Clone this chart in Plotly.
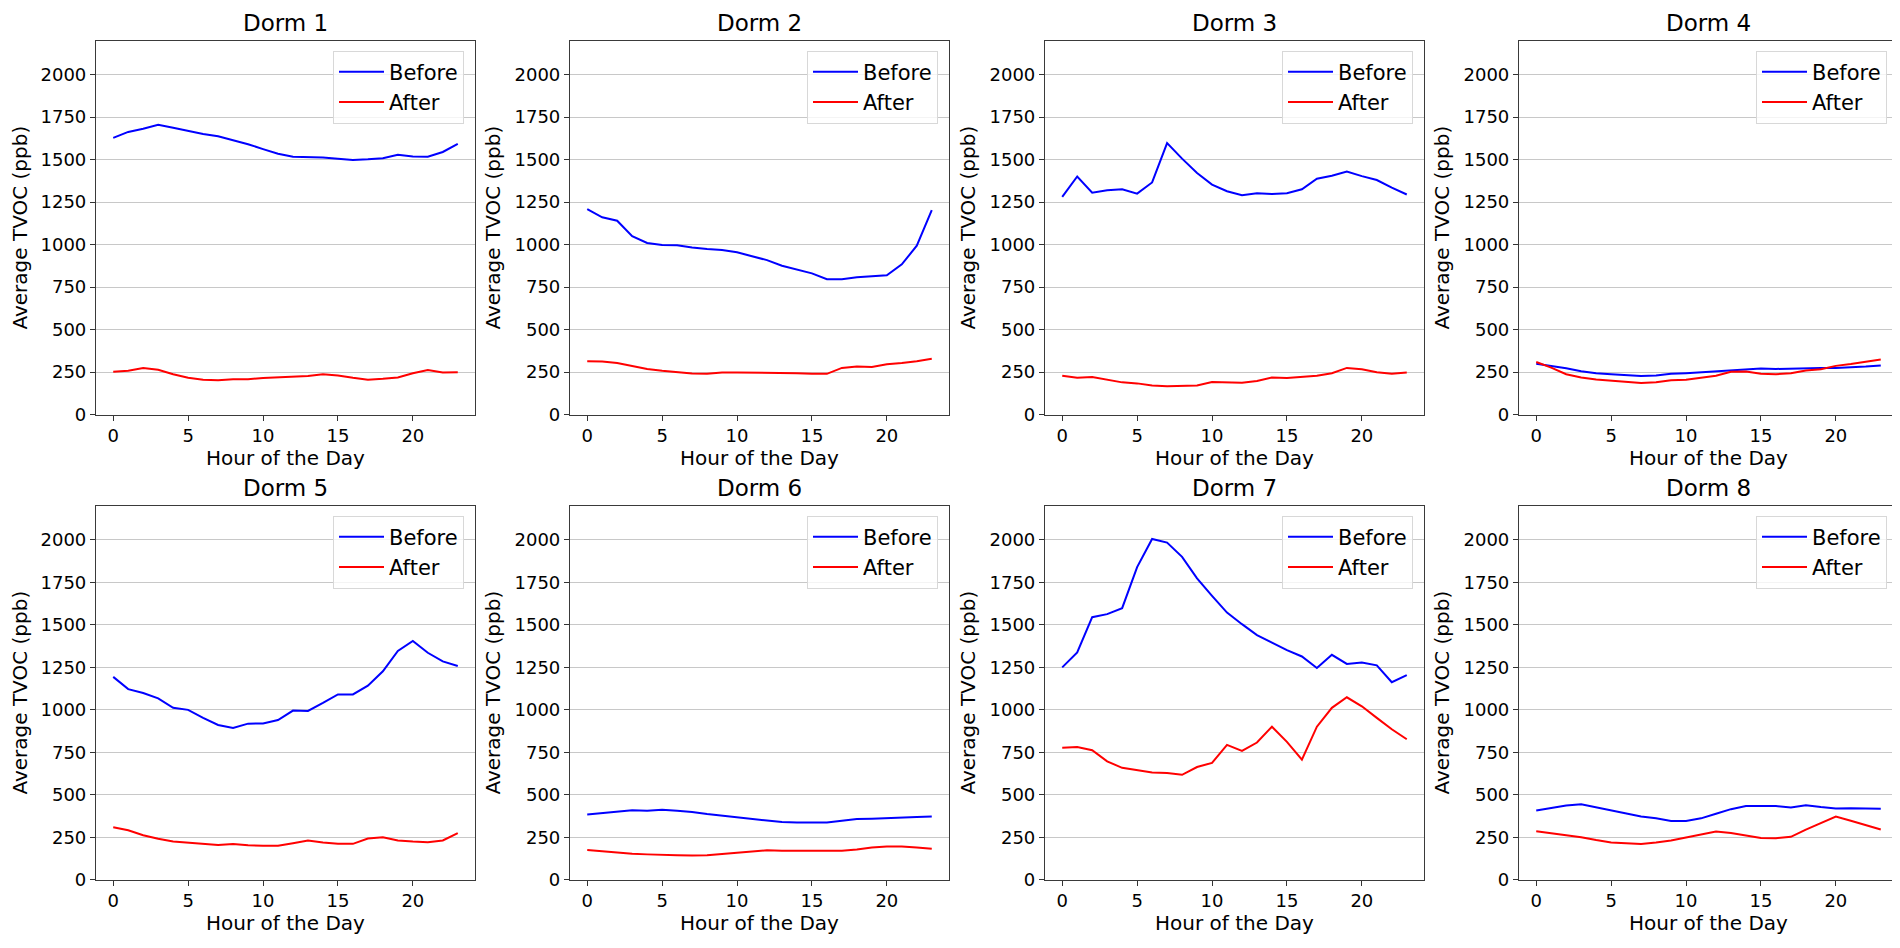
import plotly.graph_objects as go

hours = list(range(24))
dorm_names = ["Dorm 1", "Dorm 2", "Dorm 3", "Dorm 4", "Dorm 5", "Dorm 6", "Dorm 7", "Dorm 8"]
series_names = ["Before", "After"]
y_ticks = [0, 250, 500, 750, 1000, 1250, 1500, 1750, 2000]
x_ticks = [0, 5, 10, 15, 20]

dorm1_before = [1628, 1663, 1682, 1705, 1688, 1669, 1651, 1638, 1614, 1591, 1562, 1535,
                1517, 1515, 1512, 1506, 1498, 1502, 1508, 1529, 1519, 1517, 1545, 1593]
dorm1_after = [252, 258, 275, 264, 238, 217, 205, 203, 209, 209, 215, 219,
               219, 227, 238, 231, 217, 205, 211, 219, 244, 262, 248, 250]

dorm2_before = [1209, 1161, 1141, 1050, 1010, 998, 996, 983, 975, 969, 955, 932,
                909, 876, 855, 831, 797, 797, 808, 816, 820, 884, 994, 1203]
dorm2_after = [314, 312, 304, 287, 269, 258, 250, 242, 240, 248, 248, 248,
               248, 246, 244, 240, 240, 275, 283, 281, 297, 304, 314, 329]

dorm3_before = [1281, 1401, 1306, 1320, 1326, 1300, 1366, 1597, 1506, 1421, 1353, 1314,
                1291, 1302, 1298, 1302, 1326, 1388, 1405, 1430, 1403, 1380, 1335, 1295]
dorm3_after = [229, 217, 221, 205, 190, 184, 172, 167, 171, 171, 192, 188,
               188, 198, 219, 215, 223, 229, 244, 275, 267, 250, 240, 248]

dorm4_before = [300, 287, 273, 256, 244, 238, 233, 227, 231, 240, 244, 250,
                256, 262, 267, 271, 269, 271, 277, 275, 275, 277, 283, 289]
dorm4_after = [310, 277, 238, 219, 207, 200, 190, 186, 190, 203, 205, 219,
               229, 252, 254, 240, 238, 244, 260, 267, 287, 298, 312, 324]

dorm5_before = [1193, 1121, 1098, 1067, 1011, 999, 952, 910, 892, 918, 919, 939,
                995, 993, 1040, 1090, 1090, 1141, 1226, 1346, 1404, 1335, 1284, 1257]
dorm5_after = [308, 291, 262, 241, 225, 219, 213, 204, 210, 202, 200, 200,
               215, 231, 219, 211, 211, 242, 250, 231, 225, 221, 231, 274]

dorm6_before = [384, 392, 403, 409, 405, 411, 405, 398, 386, 376, 369, 355,
                345, 339, 336, 334, 336, 347, 357, 359, 361, 363, 369, 372]
dorm6_after = [175, 167, 157, 153, 149, 145, 144, 142, 144, 151, 159, 167,
               173, 171, 171, 171, 173, 171, 177, 190, 196, 196, 190, 182]

dorm7_before = [1249, 1337, 1544, 1562, 1597, 1839, 2004, 1983, 1899, 1773, 1670, 1571,
                1503, 1439, 1395, 1350, 1313, 1245, 1323, 1269, 1278, 1261, 1162, 1203]
dorm7_after = [776, 780, 762, 696, 658, 642, 630, 627, 617, 663, 687, 793,
               758, 807, 900, 811, 706, 900, 1011, 1073, 1020, 952, 885, 826]

dorm8_before = [407, 423, 436, 444, 425, 407, 388, 372, 361, 345, 345, 361,
                388, 415, 433, 433, 433, 425, 438, 427, 419, 421, 417, 417]
dorm8_after = [285, 274, 264, 250, 233, 219, 215, 210, 219, 231, 248, 264,
               283, 275, 262, 246, 244, 252, 295, 334, 372, 347, 322, 295]

before_all = [dorm1_before, dorm2_before, dorm3_before, dorm4_before,
              dorm5_before, dorm6_before, dorm7_before, dorm8_before]
after_all = [dorm1_after, dorm2_after, dorm3_after, dorm4_after,
             dorm5_after, dorm6_after, dorm7_after, dorm8_after]

W, H = 1900, 948
FONT = "DejaVu Sans"
col_left = [88, 562, 1037, 1511]
plot_w = 379
row_top = [33, 503]
plot_h = 378

fig = go.Figure()
layout = dict(
    width=W, height=H, autosize=False,
    margin=dict(l=0, r=0, t=0, b=0),
    paper_bgcolor="white", plot_bgcolor="white",
    font=dict(family=FONT, color="black"),
    annotations=[],
)

for i in range(8):
    r, c = divmod(i, 4)
    k = i + 1
    sfx = "" if k == 1 else str(k)
    x0 = col_left[c] / W
    x1 = (col_left[c] + plot_w) / W
    y1 = 1 - row_top[r] / H
    y0 = 1 - (row_top[r] + plot_h) / H
    leg = "legend" if k == 1 else f"legend{k}"
    for name, vals, color in [(series_names[0], before_all[i], "#0000ff"),
                              (series_names[1], after_all[i], "#ff0000")]:
        fig.add_trace(go.Scatter(
            x=hours, y=vals, mode="lines", name=name,
            line=dict(color=color, width=2),
            xaxis=f"x{sfx}", yaxis=f"y{sfx}", legend=leg, showlegend=True,
        ))
    layout[f"xaxis{sfx}"] = dict(
        domain=[x0, x1], anchor=f"y{sfx}", range=[-1.15, 24.15],
        tickmode="array", tickvals=x_ticks, ticks="outside", ticklen=5,
        tickcolor="#333", tickfont=dict(size=18, family=FONT),
        showline=True, linecolor="#3a3a3a", linewidth=1.2, mirror=True,
        showgrid=False, zeroline=False,
        title=dict(text="Hour of the Day", font=dict(size=20, family=FONT), standoff=5),
    )
    layout[f"yaxis{sfx}"] = dict(
        domain=[y0, y1], anchor=f"x{sfx}", range=[0, 2200],
        tickmode="array", tickvals=y_ticks, ticks="outside", ticklen=5,
        tickcolor="#333", tickfont=dict(size=18, family=FONT),
        showline=True, linecolor="#3a3a3a", linewidth=1.2, mirror=True,
        showgrid=True, gridcolor="#c8c8c8", gridwidth=1, zeroline=False,
        title=dict(text="Average TVOC (ppb)", font=dict(size=20, family=FONT), standoff=8),
    )
    layout[leg] = dict(
        x=(col_left[c] + plot_w - 11) / W, y=1 - (row_top[r] + 10) / H,
        xanchor="right", yanchor="top",
        bgcolor="rgba(255,255,255,0.8)", bordercolor="#d8d8d8", borderwidth=1,
        font=dict(size=21, family=FONT), itemwidth=45,
    )
    layout["annotations"].append(dict(
        text=dorm_names[i], xref="paper", yref="paper",
        x=(x0 + x1) / 2, y=y1, xanchor="center", yanchor="bottom", yshift=3,
        showarrow=False, font=dict(size=23, family=FONT),
    ))

fig.update_layout(**layout)
fig.write_html("out.html")
